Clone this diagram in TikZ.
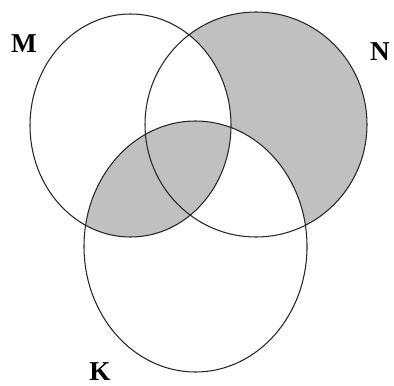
\documentclass[tikz,border=0pt]{standalone}
\usepackage{fontspec}
\setmainfont{Liberation Serif}
\definecolor{setgray}{RGB}{192,192,192}
\begin{document}
\begin{tikzpicture}[x=0.02cm, y=-0.02cm,
    mset/.style={x radius=100.5, y radius=111.5},
    nset/.style={x radius=111, y radius=112.5},
    kset/.style={x radius=111.5, y radius=125.5},
    outline/.style={draw=black!85, line width=0.6pt},
    setlabel/.style={font=\fontsize{15.5}{18}\selectfont\bfseries}]
    \useasboundingbox (0,0) rectangle (394,385);

    % Centres of the sets
    \coordinate (m) at (130.5,125.5);
    \coordinate (n) at (256,124.5);
    \coordinate (k) at (195.5,246.5);

    % Shaded parts
    \fill[setgray] (n) ellipse [nset];
    \fill[white] (m) ellipse [mset];
    \fill[white] (k) ellipse [kset];
    \begin{scope}
        \clip (m) ellipse [mset];
        \fill[setgray] (k) ellipse [kset];
    \end{scope}

    % Circles
    \draw[outline] (m) ellipse [mset];
    \draw[outline] (n) ellipse [nset];
    \draw[outline] (k) ellipse [kset];

    % Labels M, N and K
    \node[setlabel] (labM) at (24,44) {M};
    \node[setlabel] (labN) at (380,52) {N};
    \node[setlabel] (labK) at (100,372) {K};

\end{tikzpicture}
\end{document}
